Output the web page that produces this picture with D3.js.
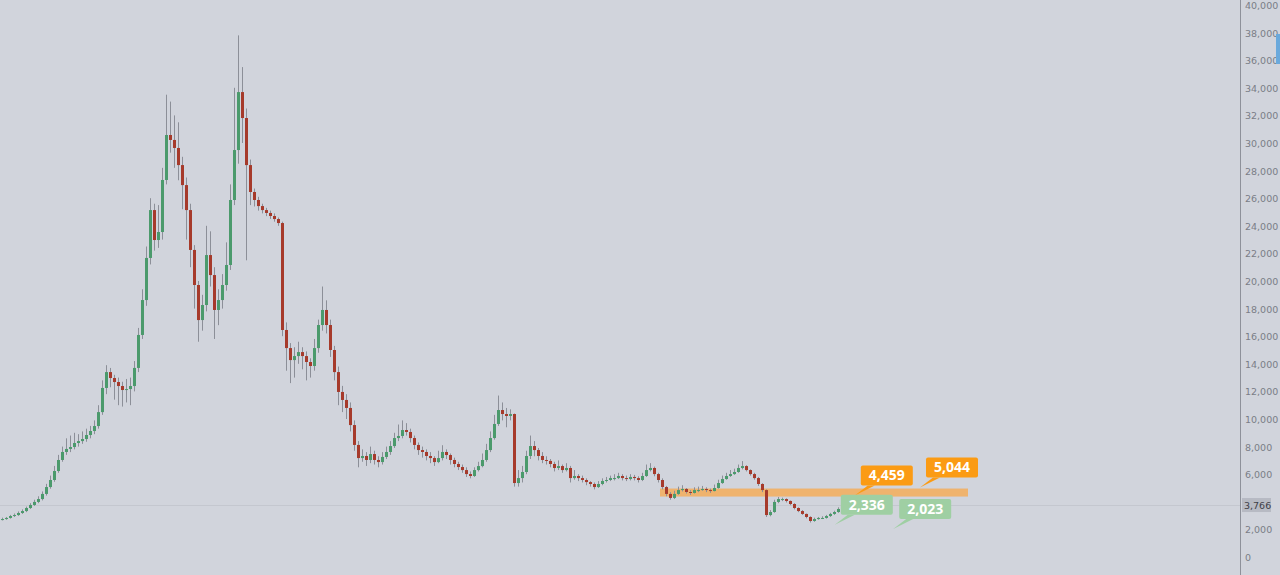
<!DOCTYPE html>
<html><head><meta charset="utf-8">
<script src="https://cdn.jsdelivr.net/npm/d3@7"></script>
<style>html,body{margin:0;padding:0;background:#d1d4dc;overflow:hidden}</style>
</head><body>
<svg id="c" width="1280" height="575"></svg>
<script>
const opens = [2700,2750,2830,2970,3040,3190,3330,3550,3770,3990,4200,4570,5070,5580,6230,7030,7610,7830,7970,8260,8400,8550,8840,9130,9490,10500,12250,13400,12970,12680,12390,12100,12170,12390,13700,16090,18620,21670,25140,22970,23550,27320,30580,30220,29640,28400,26950,25140,22250,19710,17170,18260,21880,20430,17900,18620,19710,21160,25870,29490,33690,31810,28400,26450,25870,25430,25140,24930,24710,24490,24200,16450,15140,14270,14560,14850,14560,14130,13840,15140,16810,17900,16810,15000,13400,11960,11380,10800,9560,8120,7170,7320,7030,7460,7030,6880,7250,7610,8040,8620,8770,9200,9060,8620,8120,7750,7610,7320,7170,6880,7170,7610,7390,7030,6740,6520,6300,6010,5870,6300,6590,7030,7750,8620,9640,10650,10360,10220,10360,5360,5720,6160,7320,8040,7750,7320,7030,6960,6740,6450,6590,6300,6450,5720,5870,5720,5580,5430,5290,5070,5290,5510,5580,5720,5720,5870,5720,5650,5800,5720,5580,5870,6300,6450,6010,5580,5070,4570,4280,4570,4850,4930,4710,4640,4850,4850,4930,4850,4780,5000,5360,5650,5870,6010,6160,6450,6590,6300,6010,5720,5290,4850,3040,3260,3990,4200,4200,4060,3840,3550,3330,3120,2900,2610,2750,2830,2830,2970,3120,3260,3480,3620,3620,3700];
const closes = [2750,2830,2970,3040,3190,3330,3550,3770,3990,4200,4570,5070,5580,6230,7030,7610,7830,7970,8260,8400,8550,8840,9130,9490,10500,12250,13400,12970,12680,12390,12100,12170,12390,13700,16090,18620,21670,25140,22970,23550,27320,30580,30220,29640,28400,26950,25140,22250,19710,17170,18260,21880,20430,17900,18620,19710,21160,25870,29490,33690,31810,28400,26450,25870,25430,25140,24930,24710,24490,24200,16450,15140,14270,14560,14850,14560,14130,13840,15140,16810,17900,16810,15000,13400,11960,11380,10800,9560,8120,7170,7320,7030,7460,7030,6880,7250,7610,8040,8620,8770,9200,9060,8620,8120,7750,7610,7320,7170,6880,7170,7610,7390,7030,6740,6520,6300,6010,5870,6300,6590,7030,7750,8620,9640,10650,10360,10220,10360,5360,5720,6160,7320,8040,7750,7320,7030,6960,6740,6450,6590,6300,6450,5720,5870,5720,5580,5430,5290,5070,5290,5510,5580,5720,5720,5870,5720,5650,5800,5720,5580,5870,6300,6450,6010,5580,5070,4570,4280,4570,4850,4930,4710,4640,4850,4850,4930,4850,4780,5000,5360,5650,5870,6010,6160,6450,6590,6300,6010,5720,5290,4850,3040,3260,3990,4200,4200,4060,3840,3550,3330,3120,2900,2610,2750,2830,2830,2970,3120,3260,3480,3620,3620,3700,3766];
const highs = [2850,2900,3050,3150,3300,3450,3650,3900,4150,4400,4750,5300,5900,6600,7400,8000,8600,8800,9000,8900,9100,9300,9500,9900,11000,12800,13900,13700,13200,13000,12700,12900,13000,14200,16600,19400,22500,26000,25600,25500,28200,33500,33000,32000,31500,29000,27500,25600,22600,20000,19000,24000,23600,21000,19400,20500,22800,27000,34000,37800,35500,32500,28800,26700,26100,25600,25300,25100,24900,24600,24300,17000,15500,15200,15600,15200,14900,14400,15800,17200,19600,18600,17200,15300,13800,12400,11800,11200,9900,8400,7800,7600,8000,7700,7300,7600,8000,8400,9000,9600,9900,9700,9300,8800,8300,8000,7800,7600,7300,7700,8100,7800,7500,7200,6900,6700,6500,6200,6500,6900,7500,8200,9100,10300,11700,11200,10800,10700,10400,6300,6600,7700,8800,8400,7900,7600,7300,7100,6900,7000,6700,6800,6600,6300,6000,5900,5700,5500,5400,5500,5700,5800,5900,6000,6100,6000,5900,6000,5950,5850,6100,6700,6800,6550,6100,5700,5150,4700,4800,5100,5200,5000,4850,5050,5100,5150,5050,4950,5250,5600,5900,6100,6300,6400,6700,6950,6650,6350,6100,5800,5350,4900,3400,4150,4350,4300,4250,4100,3900,3600,3400,3150,2950,2850,2900,2950,3050,3200,3350,3600,3750,3700,3800,3800];
const lows = [2650,2700,2780,2900,2980,3120,3250,3480,3700,3900,4100,4450,4950,5450,6100,6900,7400,7600,7800,8000,8200,8350,8600,8900,9300,10300,11800,12300,11400,11000,10900,11200,11000,12000,13400,15800,18200,21200,22200,22400,23000,27000,29300,28200,27300,25200,23000,21000,18000,15600,16400,17800,19600,15800,16800,18000,19300,20800,25500,28500,30000,21500,25500,25400,25100,24900,24700,24500,24300,24000,16000,13500,12600,13000,14000,13600,12800,13000,13500,14800,16400,16200,14500,12800,11000,10500,10000,9100,7700,6500,6900,6600,6800,6700,6500,6700,7100,7400,7900,8400,8600,8800,8300,7800,7400,7200,7000,6800,6600,6800,7000,7100,6700,6500,6300,6100,5800,5700,5800,6200,6500,6900,7600,8500,9500,9900,9400,9900,5100,5100,5400,6000,7100,7300,7000,6800,6700,6500,6200,6300,6100,6200,5400,5600,5500,5400,5200,5100,4900,5000,5200,5400,5500,5550,5650,5550,5500,5550,5550,5400,5500,5800,6200,5850,5400,4900,4400,4150,4200,4500,4750,4600,4500,4600,4700,4800,4700,4650,4750,4950,5300,5600,5800,5950,6100,6350,6200,5900,5600,5150,4700,2900,2950,3200,3900,4050,3950,3750,3450,3250,3050,2800,2500,2550,2700,2750,2780,2900,3050,3200,3400,3550,3600,3650];

const yTicks = [0,2000,4000,6000,8000,10000,12000,14000,16000,18000,20000,22000,24000,26000,28000,30000,32000,34000,36000,38000,40000];
const lastPrice = 3766;
const zoneFrom = 164.5, zoneTo = 241.5;           // candle index range of the band
const bandValues = [4380, 4960];
const noteTexts  = ["4,459","5,044","2,336","2,023"];
const noteValues = [4459, 5044, 2336, 2023];
const noteIndex  = [213.2, 229.5, 208.2, 222.8];
const noteKinds  = ["orange","orange","green","green"];

const svg = d3.select("#c");
const W = 1280, H = 575, axisX = 1240;
svg.append("rect").attr("width",W).attr("height",H).attr("fill","#d1d4dc");

const y = d3.scaleLinear().domain([0,40000]).range([557,5]);
const x = d3.scaleLinear().domain([0,213]).range([2,854]);

// price line
svg.append("line").attr("x1",0).attr("x2",axisX).attr("y1",Math.round(y(lastPrice))+0.5).attr("y2",Math.round(y(lastPrice))+0.5)
  .attr("stroke","#c4c7cf").attr("stroke-width",1);

// orange band
svg.append("rect")
  .attr("x",x(zoneFrom)).attr("width",x(zoneTo)-x(zoneFrom))
  .attr("y",y(bandValues[1])).attr("height",y(bandValues[0])-y(bandValues[1]))
  .attr("fill","#f4ad5a").attr("opacity",0.85);

// candles
const data = closes.map((c,i)=>({i,o:opens[i],h:highs[i],l:lows[i],c}));
const up = "#4b9a6c", dn = "#a63a2b";
const g = svg.append("g");
g.selectAll("line.w").data(data).enter().append("line")
  .attr("x1",d=>Math.round(x(d.i))+0.5).attr("x2",d=>Math.round(x(d.i))+0.5)
  .attr("y1",d=>y(d.h)).attr("y2",d=>y(d.l))
  .attr("stroke",(d,i)=> i===data.length-1 ? "#333" : "#8c8f98").attr("stroke-width",1);
g.selectAll("rect.b").data(data).enter().append("rect")
  .attr("x",d=>Math.round(x(d.i))-1).attr("width",3)
  .attr("y",d=>y(Math.max(d.o,d.c)))
  .attr("height",d=>Math.max(1,Math.abs(y(d.o)-y(d.c))))
  .attr("fill",d=>d.c>=d.o?up:dn);

// annotations
const colors = {orange:"#fb9b14", green:"#9fcfa3"};
noteTexts.forEach((t,k)=>{
  const tx = x(noteIndex[k]), ty = y(noteValues[k]);
  const bx = tx+6, bb = ty-10, bw = 52, bh = 20;
  const col = colors[noteKinds[k]];
  const ng = svg.append("g");
  ng.append("path").attr("d",`M${tx},${ty} L${bx+7},${bb} L${bx+14},${bb} Z`).attr("fill",col);
  ng.append("rect").attr("x",bx).attr("y",bb-bh).attr("width",bw).attr("height",bh).attr("rx",2).attr("fill",col);
  ng.append("text").attr("x",bx+bw/2).attr("y",bb-bh/2+5).attr("text-anchor","middle")
    .attr("font-family","Open Sans, Roboto, sans-serif").attr("font-weight","700").attr("font-size",14)
    .attr("fill","#ffffff").text(t);
});

// right axis
svg.append("line").attr("x1",axisX+0.5).attr("x2",axisX+0.5).attr("y1",0).attr("y2",H).attr("stroke","#8e919a");
const ax = svg.append("g");
ax.selectAll("text").data(yTicks.filter(v=>Math.abs(y(v)-y(lastPrice))>12)).enter().append("text")
  .attr("x",axisX+5).attr("y",d=>y(d)+4)
  .attr("font-family","Tahoma, DejaVu Sans, sans-serif").attr("font-size",9.5).attr("fill","#7a7d86")
  .text(d=>d3.format(",")(d));
// tick partly hidden behind the last-price tag (clipped to its visible top)
svg.append("clipPath").attr("id","tclip").append("rect").attr("x",axisX).attr("y",0).attr("width",40).attr("height",y(lastPrice)-7);
svg.append("text").attr("clip-path","url(#tclip)").attr("x",axisX+5).attr("y",y(4000)+4)
  .attr("font-family","Tahoma, DejaVu Sans, sans-serif").attr("font-size",9.5).attr("fill","#7a7d86")
  .text(d3.format(",")(4000));
// last price label
const ly = y(lastPrice);
svg.append("rect").attr("x",axisX+2).attr("y",ly-7).attr("width",29).attr("height",14).attr("fill","#b7bac3");
svg.append("text").attr("x",axisX+4).attr("y",ly+4).attr("font-family","Tahoma, DejaVu Sans, sans-serif")
  .attr("font-size",9.5).attr("fill","#3e4048").text(d3.format(",")(lastPrice));
// scrollbar mark
svg.append("rect").attr("x",1276).attr("y",34).attr("width",4).attr("height",30).attr("fill","#6aa9dc");
</script>
</body></html>
